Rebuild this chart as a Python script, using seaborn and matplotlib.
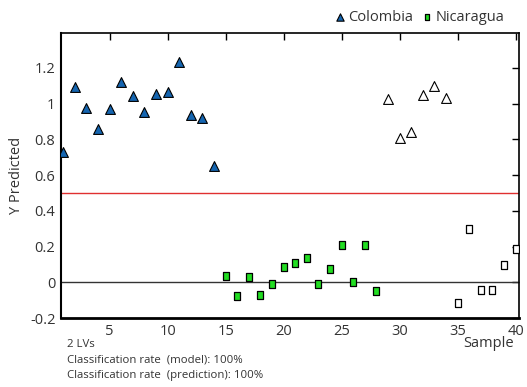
import pandas as pd
import matplotlib.pyplot as plt
import seaborn as sns

# samples and predicted Y (model set and prediction set)
col_model_x = list(range(1, 15))
col_model_y = [0.73, 1.09, 0.976, 0.855, 0.97, 1.12, 1.044, 0.954, 1.055, 1.066, 1.23, 0.937, 0.92, 0.65]
nic_model_x = list(range(15, 29))
nic_model_y = [0.035, -0.077, 0.032, -0.071, -0.008, 0.086, 0.108, 0.136, -0.008, 0.074, 0.209, 0.004, 0.209, -0.049]
col_pred_x = [29, 30, 31, 32, 33, 34]
col_pred_y = [1.023, 0.81, 0.84, 1.045, 1.10, 1.033]
nic_pred_x = [35, 36, 37, 38, 39, 40]
nic_pred_y = [-0.114, 0.30, -0.041, -0.041, 0.095, 0.186]

threshold = 0.5
xticks = [5, 10, 15, 20, 25, 30, 35, 40]
yticks = [-0.2, 0, 0.2, 0.4, 0.6, 0.8, 1, 1.2]
ytick_labels = ["-0.2", "0", "0.2", "0.4", "0.6", "0.8", "1", "1.2"]

sns.set_style("white")
plt.rcParams["font.family"] = ["Open Sans", "DejaVu Sans"]

fig = plt.figure(figsize=(5.27, 3.87), dpi=100)
ax = fig.add_axes([0.1157, 0.178, 0.8693, 0.737])

df_cm = pd.DataFrame({"x": col_model_x, "y": col_model_y})
df_nm = pd.DataFrame({"x": nic_model_x, "y": nic_model_y})
df_cp = pd.DataFrame({"x": col_pred_x, "y": col_pred_y})
df_np = pd.DataFrame({"x": nic_pred_x, "y": nic_pred_y})

rect = [(-0.72, -1), (0.72, -1), (0.72, 1), (-0.72, 1), (-0.72, -1)]

ax.axhline(threshold, color="#e03030", lw=1, zorder=1)
ax.axhline(0, color="#333333", lw=1, zorder=1)

sns.scatterplot(data=df_cm, x="x", y="y", marker="^", s=50, color="#1565b0",
                edgecolor="black", linewidth=0.8, ax=ax, label="Colombia", zorder=3)
sns.scatterplot(data=df_nm, x="x", y="y", marker=rect, s=36, color="#22dd22",
                edgecolor="black", linewidth=0.9, ax=ax, label="Nicaragua", zorder=3)
sns.scatterplot(data=df_cp, x="x", y="y", marker="^", s=50, color="white",
                edgecolor="black", linewidth=0.8, ax=ax, zorder=3)
sns.scatterplot(data=df_np, x="x", y="y", marker=rect, s=36, color="white",
                edgecolor="black", linewidth=0.9, ax=ax, zorder=3)

ax.set_xlim(0.8, 40.3)
ax.set_ylim(-0.2, 1.395)
ax.set_xticks(xticks)
ax.set_yticks(yticks)
ax.set_yticklabels(ytick_labels)
ax.tick_params(direction="in", length=5, width=1, labelsize=10.5, colors="black",
               top=True, right=True, labelcolor="#333333", pad=4)
for s in ax.spines.values():
    s.set_color("black")
    s.set_linewidth(1.2)
ax.spines["bottom"].set_linewidth(2)
ax.spines["left"].set_linewidth(1.5)

ax.set_xlabel("")
ax.set_ylabel("Y Predicted", fontsize=10.5, color="#333333", labelpad=4)
fig.text(0.975, 0.112, "Sample", ha="right", va="center", fontsize=10.5, color="#333333")

ax.legend(loc="lower right", bbox_to_anchor=(0.985, 1.0), ncol=2, frameon=False,
          fontsize=10.5, handlelength=0.8, handletextpad=0.15, columnspacing=0.6,
          borderaxespad=0.15, markerscale=0.75, labelcolor="#333333")

fig.text(0.127, 0.111, "2 LVs", fontsize=8.2, color="#333333", va="center")
fig.text(0.127, 0.070, "Classification rate  (model): 100%", fontsize=8.2, color="#333333", va="center")
fig.text(0.127, 0.031, "Classification rate  (prediction): 100%", fontsize=8.2, color="#333333", va="center")

fig.savefig("out.png", dpi=100)
